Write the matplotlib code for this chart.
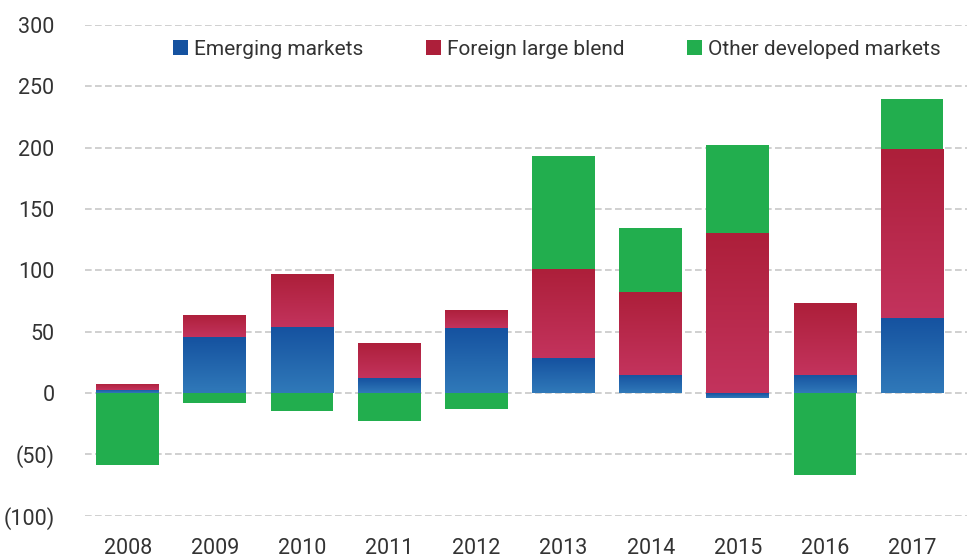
import matplotlib
matplotlib.use('Agg')
import matplotlib.pyplot as plt
from matplotlib.patches import Patch
from matplotlib.ticker import FuncFormatter
import numpy as np

plt.rcParams['font.family'] = ['Roboto', 'DejaVu Sans']

years = ['2008', '2009', '2010', '2011', '2012', '2013', '2014', '2015', '2016', '2017']
emerging = [2.5, 45.5, 54, 12, 53, 28.5, 15, -4, 15, 61.5]
foreign = [5, 18, 43, 29, 15, 72.5, 67.5, 130.5, 58, 137.5]
other = [-58.5, -8, -14.5, -22.5, -13, 92, 52, 71.5, -66.5, 40.5]

series = [
    ('Emerging markets', emerging, ('#1552a0', '#3079b9')),
    ('Foreign large blend', foreign, ('#ad1f3a', '#c3335d')),
    ('Other developed markets', other, ('#22ae4e', '#22ae4e')),
]

fig = plt.figure(figsize=(9.67, 5.6), dpi=100)
ax = fig.add_axes([85/967, 44.3/560, 882/967, 490.7/560])

x = np.arange(len(years))
pos_base = np.zeros(len(years))
neg_base = np.zeros(len(years))


def grad_fill(ax, patch, c_top, c_bot):
    x0, y0 = patch.get_x(), patch.get_y()
    w, h = patch.get_width(), patch.get_height()
    top = np.array(matplotlib.colors.to_rgb(c_top))
    bot = np.array(matplotlib.colors.to_rgb(c_bot))
    t = np.linspace(0, 1, 64)[:, None]
    img = (top * (1 - t) + bot * t)[:, None, :]
    ylo, yhi = min(y0, y0 + h), max(y0, y0 + h)
    im = ax.imshow(img, extent=[x0, x0 + w, ylo, yhi], aspect='auto',
                   origin='upper', zorder=2, interpolation='bilinear')
    im.set_clip_path(patch)


handles = []
for name, vals, (ctop, cbot) in series:
    vals = np.array(vals, dtype=float)
    bottom = np.where(vals >= 0, pos_base, neg_base)
    bars = ax.bar(x, vals, 0.72, bottom=bottom, color=ctop, zorder=2,
                  edgecolor='none')
    if ctop != cbot:
        for b in bars:
            grad_fill(ax, b, ctop, cbot)
    pos_base = pos_base + np.where(vals >= 0, vals, 0)
    neg_base = neg_base + np.where(vals < 0, vals, 0)
    handles.append(Patch(facecolor=ctop, label=name))

ax.set_xlim(-0.49, 9.63)
ax.set_ylim(-100, 300)
ax.set_yticks(range(-100, 301, 50))
ax.yaxis.set_major_formatter(FuncFormatter(
    lambda v, p: f'({abs(int(v))})' if v < 0 else f'{int(v)}'))
ax.set_xticks(x)
ax.set_xticklabels(years)
ax.tick_params(length=0, labelsize=15.5, colors='#333333')
ax.tick_params(axis='y', pad=22)
ax.tick_params(axis='x', pad=16)
for s in ax.spines.values():
    s.set_visible(False)
ax.grid(axis='y', color='#c8c8c8', linestyle=(0, (4, 2)), linewidth=1.2, zorder=0)
ax.set_axisbelow(True)

ax.legend(handles=handles, loc='center', bbox_to_anchor=(0.535, 0.951),
          ncol=3, frameon=False, fontsize=15, handlelength=0.72,
          handleheight=0.72, handletextpad=0.3, columnspacing=3.0,
          labelcolor='#333333', borderpad=0, borderaxespad=0)

fig.savefig('out.png', dpi=100)
